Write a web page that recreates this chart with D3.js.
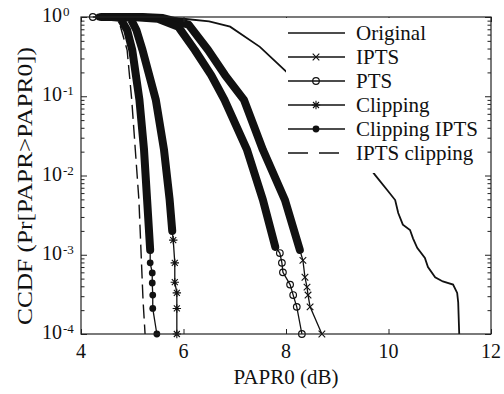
<!DOCTYPE html>
<html lang="en">
<head>
<meta charset="UTF-8">
<title>CCDF of PAPR</title>
<script src="https://cdnjs.cloudflare.com/ajax/libs/d3/7.8.5/d3.min.js"></script>
<style>
  body { margin: 0; background: #fff; }
  text { font-family: "Liberation Serif", "Times New Roman", serif; fill: #111; }
</style>
</head>
<body>
<div id="chart"></div>
<script>

    var width = 504,
        height = 394;

    // tick labels
    var xTicks = [4, 6, 8, 10, 12];
    var yExponents = [0, -1, -2, -3, -4];
    var seriesNames = ["Original", "IPTS", "PTS", "Clipping", "Clipping IPTS", "IPTS clipping"];

    // values (PAPR0 in dB, CCDF)
    var originalX = [4.6, 5.0, 5.6, 6.0, 6.5, 6.91, 7.49, 8.02, 8.5, 9.0, 9.4, 9.74, 9.97, 10.13, 10.19, 10.28, 10.42, 10.48, 10.56, 10.71, 10.77, 10.91, 11.06, 11.26, 11.34, 11.36, 11.38];
    var originalY = [1, 1, 0.99, 0.95, 0.88, 0.755, 0.42, 0.2, 0.09, 0.04, 0.02, 0.0101, 0.0066, 0.0049, 0.00336, 0.0024, 0.00205, 0.0016, 0.00122, 0.00091, 0.0007, 0.00052, 0.00046, 0.00042, 0.00033, 0.00025, 0.0001];

    var iptsX = [4.4, 5.2, 5.6, 6.1, 6.48, 6.81, 7.18, 7.55, 7.98, 8.27, 8.33, 8.37, 8.41, 8.43, 8.47, 8.70];
    var iptsY = [1, 0.999, 0.97, 0.8, 0.383, 0.185, 0.09, 0.021, 0.0049, 0.00115, 0.00085, 0.00052, 0.00039, 0.00031, 0.00022, 0.0001];

    var ptsX = [4.23, 4.5, 5.0, 5.5, 5.9, 6.22, 6.54, 6.8, 7.24, 7.55, 7.79, 7.88, 7.92, 7.94, 8.08, 8.14, 8.21, 8.31];
    var ptsY = [1, 1, 0.9995, 0.95, 0.75, 0.383, 0.185, 0.09, 0.021, 0.0049, 0.00126, 0.00105, 0.00079, 0.0006, 0.00042, 0.00031, 0.00022, 0.0001];

    var clipX = [4.5, 4.8, 4.96, 5.08, 5.2, 5.46, 5.62, 5.73, 5.78, 5.80, 5.83, 5.83, 5.87, 5.87, 5.87];
    var clipY = [1, 0.999, 0.98, 0.685, 0.383, 0.09, 0.021, 0.0049, 0.002, 0.00153, 0.00079, 0.00045, 0.00033, 0.00021, 0.0001];

    var clipIptsX = [4.35, 4.42, 4.6, 4.76, 4.9, 5.0, 5.14, 5.23, 5.29, 5.35, 5.35, 5.39, 5.39, 5.40, 5.40, 5.48];
    var clipIptsY = [1, 1, 1, 0.98, 0.685, 0.383, 0.09, 0.021, 0.0049, 0.00115, 0.00079, 0.00059, 0.00044, 0.00031, 0.00021, 0.0001];

    var iptsClipX = [4.5, 4.72, 4.90, 4.99, 5.06, 5.13, 5.17, 5.21, 5.25];
    var iptsClipY = [1, 0.98, 0.383, 0.09, 0.021, 0.0049, 0.00115, 0.00027, 0.0001];

    // dense: index range where the markers pile up into a solid band
    var series = [
        {name: seriesNames[0], x: originalX, y: originalY, marker: null, dense: null, dash: null, w: 1.8},
        {name: seriesNames[1], x: iptsX, y: iptsY, marker: "x", dense: [0, 9], dash: null, w: 1.3},
        {name: seriesNames[2], x: ptsX, y: ptsY, marker: "o", dense: [1, 10], dash: null, w: 1.3},
        {name: seriesNames[3], x: clipX, y: clipY, marker: "*", dense: [0, 8], dash: null, w: 1.3},
        {name: seriesNames[4], x: clipIptsX, y: clipIptsY, marker: "dot", dense: [2, 9], dash: null, w: 1.3},
        {name: seriesNames[5], x: iptsClipX, y: iptsClipY, marker: null, dense: null, dash: "14,6", w: 1.4}
    ];

    var svg = d3.select("#chart")
        .append("svg")
        .attr("width", width)
        .attr("height", height);

    var x = d3.scaleLinear().domain([4, 12]).range([81, 491]);
    var y = d3.scaleLog().domain([1e-4, 1]).range([334, 17]);

    var line = d3.line()
        .x(function(d){ return x(d[0]); })
        .y(function(d){ return y(d[1]); });

    function markerPath(type) {
        if (type == "x") return "M-3.3,-3.3L3.3,3.3M-3.3,3.3L3.3,-3.3";
        if (type == "*") return "M-3,-3L3,3M-3,3L3,-3M0,-4.2V4.2M-4.2,0H4.2";
        return null;
    }

    function drawMarker(g, type, cx, cy) {
        if (type == "o") {
            g.append("circle").attr("cx", cx).attr("cy", cy).attr("r", 3.3)
                .attr("fill", "none").attr("stroke", "#111").attr("stroke-width", 1.2);
        } else if (type == "dot") {
            g.append("circle").attr("cx", cx).attr("cy", cy).attr("r", 3.4)
                .attr("fill", "#111");
        } else {
            g.append("path").attr("d", markerPath(type))
                .attr("transform", "translate(" + cx + "," + cy + ")")
                .attr("fill", "none").attr("stroke", "#111").attr("stroke-width", 1.1);
        }
    }

    var plot = svg.append("g");

    series.forEach(function(s){
        var pts = s.x.map(function(v, i){ return [v, s.y[i]]; });

        plot.append("path")
            .attr("d", line(pts))
            .attr("fill", "none")
            .attr("stroke", "#111")
            .attr("stroke-width", s.w)
            .attr("stroke-dasharray", s.dash);

        if (s.dense) {
            plot.append("path")
                .attr("d", line(pts.slice(s.dense[0], s.dense[1] + 1)))
                .attr("fill", "none")
                .attr("stroke", "#111")
                .attr("stroke-width", 8)
                .attr("stroke-linejoin", "round")
                .attr("stroke-linecap", "round");
        }
        if (s.marker) {
            pts.forEach(function(p, i){
                if (s.dense && i >= s.dense[0] && i <= s.dense[1]) return;
                drawMarker(plot, s.marker, x(p[0]), y(p[1]));
            });
        }
    });

    // axes: ticks pointing inward on all four sides
    var yMinor = y.ticks().filter(function(v){
        return yExponents.map(function(e){ return Math.pow(10, e); }).indexOf(v) < 0;
    });
    var yMajor = yExponents.map(function(e){ return Math.pow(10, e); });

    function styleAxis(g) {
        g.select(".domain").remove();
        g.selectAll("line").attr("stroke", "#222").attr("stroke-width", 1);
        g.selectAll("text").remove();
    }

    svg.append("g").attr("transform", "translate(0,334)")
        .call(d3.axisBottom(x).tickValues(xTicks).tickSize(-5).tickFormat(""))
        .call(styleAxis);
    svg.append("g").attr("transform", "translate(0,17)")
        .call(d3.axisTop(x).tickValues(xTicks).tickSize(-5).tickFormat(""))
        .call(styleAxis);
    svg.append("g").attr("transform", "translate(81,0)")
        .call(d3.axisLeft(y).tickValues(yMajor).tickSize(-6).tickFormat(""))
        .call(styleAxis);
    svg.append("g").attr("transform", "translate(81,0)")
        .call(d3.axisLeft(y).tickValues(yMinor).tickSize(-3.5).tickFormat(""))
        .call(styleAxis);
    svg.append("g").attr("transform", "translate(491,0)")
        .call(d3.axisRight(y).tickValues(yMajor).tickSize(-6).tickFormat(""))
        .call(styleAxis);
    svg.append("g").attr("transform", "translate(491,0)")
        .call(d3.axisRight(y).tickValues(yMinor).tickSize(-3.5).tickFormat(""))
        .call(styleAxis);

    svg.append("rect")
        .attr("x", 81).attr("y", 17)
        .attr("width", 410).attr("height", 317)
        .attr("fill", "none")
        .attr("stroke", "#222")
        .attr("stroke-width", 1.2);

    // tick labels
    svg.selectAll(".xlab")
        .data(xTicks)
        .enter()
        .append("text")
        .attr("class", "xlab")
        .attr("x", function(d){ return x(d); })
        .attr("y", 358)
        .attr("text-anchor", "middle")
        .style("font-size", "20px")
        .text(function(d){ return d; });

    yExponents.forEach(function(e){
        var ty = y(Math.pow(10, e));
        svg.append("text")
            .attr("x", 62).attr("y", ty + 5)
            .attr("text-anchor", "end")
            .style("font-size", "20px")
            .text("10");
        svg.append("text")
            .attr("x", 63).attr("y", ty - 1)
            .style("font-size", "13px")
            .text(e == 0 ? "0" : "-" + Math.abs(e));
    });

    // axis titles
    svg.append("text")
        .attr("x", 286).attr("y", 384)
        .attr("text-anchor", "middle")
        .style("font-size", "21px")
        .text("PAPR0 (dB)");

    svg.append("text")
        .attr("transform", "translate(32,186) rotate(-90)")
        .attr("text-anchor", "middle")
        .attr("textLength", 278)
        .attr("lengthAdjust", "spacingAndGlyphs")
        .style("font-size", "21px")
        .text("CCDF (Pr[PAPR>PAPR0])");

    // legend
    var legend = svg.append("g");
    legend.append("rect")
        .attr("x", 286).attr("y", 18)
        .attr("width", 199).attr("height", 155)
        .attr("fill", "#fff");

    series.forEach(function(s, i){
        var ly = 33 + i * 24;
        legend.append("line")
            .attr("x1", 288).attr("x2", 345)
            .attr("y1", ly).attr("y2", ly)
            .attr("stroke", "#111")
            .attr("stroke-width", 1.3)
            .attr("stroke-dasharray", s.dash ? "20,11" : null);
        if (s.marker) drawMarker(legend, s.marker, 316, ly);
        legend.append("text")
            .attr("x", 356).attr("y", ly + 7)
            .style("font-size", "21px")
            .text(s.name);
    });

</script>
</body>
</html>
